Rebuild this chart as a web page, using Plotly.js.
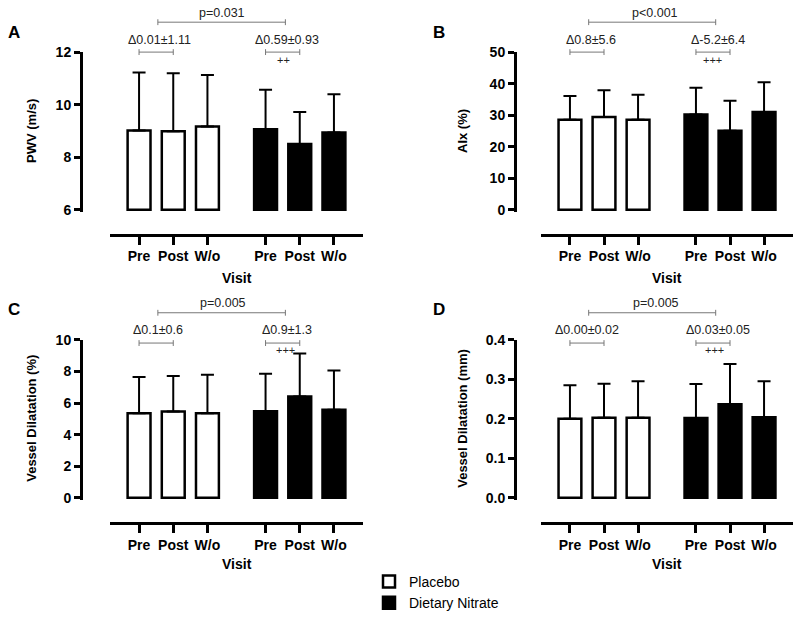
<!DOCTYPE html>
<html><head><meta charset="utf-8">
<script src="https://cdn.plot.ly/plotly-3.0.1.min.js"></script>
<style>body{margin:0;background:#fff}#chart{width:800px;height:619px}</style>
</head><body><div id="chart"></div>
<script>
// ---- data ----
const visits = ["Pre", "Post", "W/o"];
const groups = ["Placebo", "Dietary Nitrate"];

const pwvPlacebo   = [9.02, 8.99, 9.17];
const pwvPlaceboSD = [2.21, 2.21, 1.96];
const pwvNitrate   = [9.07, 8.50, 8.94];
const pwvNitrateSD = [1.50, 1.22, 1.46];

const aixPlacebo   = [28.6, 29.4, 28.6];
const aixPlaceboSD = [7.5, 8.5, 7.9];
const aixNitrate   = [30.2, 25.1, 31.0];
const aixNitrateSD = [8.5, 9.5, 9.5];

const dilPctPlacebo   = [5.36, 5.46, 5.36];
const dilPctPlaceboSD = [2.29, 2.25, 2.43];
const dilPctNitrate   = [5.48, 6.41, 5.58];
const dilPctNitrateSD = [2.37, 2.72, 2.48];

const dilMmPlacebo   = [0.200, 0.203, 0.203];
const dilMmPlaceboSD = [0.085, 0.086, 0.092];
const dilMmNitrate   = [0.202, 0.237, 0.204];
const dilMmNitrateSD = [0.086, 0.102, 0.091];

const yTitles = ["PWV (m/s)", "AIx (%)", "Vessel Dilatation (%)", "Vessel Dilatation (mm)"];
const panelLetters = ["A", "B", "C", "D"];
const pLabels = ["p=0.031", "p<0.001", "p=0.005", "p=0.005"];
const deltaPlacebo = ["Δ0.01±1.11", "Δ0.8±5.6", "Δ0.1±0.6", "Δ0.00±0.02"];
const deltaNitrate = ["Δ0.59±0.93", "Δ-5.2±6.4", "Δ0.9±1.3", "Δ0.03±0.05"];
const sigMarks = ["++", "+++", "+++", "+++"];
const xTitle = "Visit";

// ---- layout helpers ----
const W = 800, H = 619;
const fx = px => px / W;
const fy = py => 1 - py / H;
const FONT = "Liberation Sans, Arial, Helvetica, sans-serif";
const groupOffset = 3.7;

const panels = [
  {mean: [pwvPlacebo, pwvNitrate], sd: [pwvPlaceboSD, pwvNitrateSD], range: [6, 12], dtick: 2, fmt: "", col: 0, row: 0,
   tx: {p: 2.43, dP: 0.61, dN: 4.33, sig: 4.21}},
  {mean: [aixPlacebo, aixNitrate], sd: [aixPlaceboSD, aixNitrateSD], range: [0, 50], dtick: 10, fmt: "", col: 1, row: 0,
   tx: {p: 2.49, dP: 0.63, dN: 4.36, sig: 4.18}},
  {mean: [dilPctPlacebo, dilPctNitrate], sd: [dilPctPlaceboSD, dilPctNitrateSD], range: [0, 10], dtick: 2, fmt: "", col: 0, row: 1,
   tx: {p: 2.46, dP: 0.54, dN: 4.33, sig: 4.27}},
  {mean: [dilMmPlacebo, dilMmNitrate], sd: [dilMmPlaceboSD, dilMmNitrateSD], range: [0, 0.4], dtick: 0.1, fmt: ".1f", col: 1, row: 1,
   tx: {p: 2.54, dP: 0.49, dN: 4.35, sig: 4.24}}
];
const cols = [
  {yAxisX: 81, xDom: [110, 363], titleX: 32, letterX: 13.5},
  {yAxisX: 515, xDom: [541, 793], titleX: 463, letterX: 439}
];
const rows = [
  {yTop: 53.5, yBot: 214.5, xAxisY: 240, pText: 13, pLine: 22.7, dText: 41, dLine: 53.3, sig: 61, visitY: 284, letterY: 33.5},
  {yTop: 347.7, yBot: 509.3, xAxisY: 535, pText: 310, pLine: 320, dText: 338, dLine: 351, sig: 358, visitY: 577, letterY: 316.5}
];

const traces = [];
const layout = {
  width: W, height: H,
  margin: {l: 0, r: 0, t: 0, b: 0},
  paper_bgcolor: "#fff", plot_bgcolor: "rgba(0,0,0,0)",
  font: {family: FONT, color: "#000"},
  barmode: "overlay",
  showlegend: true,
  legend: {x: fx(369), y: fy(579), xanchor: "left", yanchor: "top",
           font: {family: FONT, size: 14, color: "#000"}, bgcolor: "rgba(0,0,0,0)",
           tracegroupgap: 0, traceorder: "normal"},
  annotations: [], shapes: []
};

const xpos = gi => visits.map((v, i) => gi * groupOffset + i);
const allX = [].concat(xpos(0), xpos(1));
const allTickText = [].concat(visits, visits);
const PAD = 2;

panels.forEach((p, k) => {
  const c = cols[p.col], r = rows[p.row];
  const sfx = k === 0 ? "" : String(k + 1);
  const xname = "x" + sfx, yname = "y" + sfx;
  const span = p.range[1] - p.range[0];
  const lo = p.range[0] - span * PAD / (r.yBot - r.yTop);

  layout["xaxis" + sfx] = {
    domain: [fx(c.xDom[0]), fx(c.xDom[1])],
    anchor: "free", position: fy(r.xAxisY),
    range: [-0.85, 6.55], fixedrange: true,
    tickmode: "array", tickvals: allX, ticktext: allTickText,
    showline: true, linewidth: 3, linecolor: "#000",
    ticks: "outside", ticklen: 8, tickwidth: 3, tickcolor: "#000",
    showgrid: false, zeroline: false,
    tickfont: {family: FONT, size: 14, color: "#000", weight: "bold"}
  };
  layout["yaxis" + sfx] = {
    domain: [fy(r.yBot + PAD), fy(r.yTop)],
    anchor: "free", position: fx(c.yAxisX),
    range: [lo, p.range[1]], fixedrange: true,
    tickmode: "linear", tick0: p.range[0], dtick: p.dtick, tickformat: p.fmt,
    showline: true, linewidth: 3, linecolor: "#000",
    ticks: "outside", ticklen: 6, tickwidth: 3, tickcolor: "#000",
    showgrid: false, zeroline: false,
    tickfont: {family: FONT, size: 14, color: "#000", weight: "bold"}
  };

  groups.forEach((g, gi) => {
    traces.push({
      type: "bar", name: g, legendgroup: g, showlegend: k === 0,
      x: xpos(gi),
      y: p.mean[gi].map(v => v - p.range[0]),
      base: p.range[0],
      customdata: p.mean[gi],
      text: visits,
      hovertemplate: g + " %{text}: %{customdata}<extra></extra>",
      textposition: "none",
      width: 0.67,
      marker: {color: gi ? "#000" : "#fff", line: {color: "#000", width: 2.5}},
      error_y: {type: "data", symmetric: false, array: p.sd[gi], arrayminus: p.sd[gi].map(() => 0),
                color: "#000", thickness: 2, width: 6.5},
      xaxis: xname, yaxis: yname
    });
  });

  // annotation texts
  const txt = (text, x, y, size, extra) => Object.assign({
    text: text, xref: xname, yref: "paper", x: x, y: fy(y),
    xanchor: "center", yanchor: "middle", showarrow: false,
    font: {family: FONT, size: size, color: "#222"}
  }, extra || {});
  layout.annotations.push(txt(pLabels[k], p.tx.p, r.pText, 12.5));
  layout.annotations.push(txt(deltaPlacebo[k], p.tx.dP, r.dText, 12.5));
  layout.annotations.push(txt(deltaNitrate[k], p.tx.dN, r.dText, 12.5));
  layout.annotations.push(txt(sigMarks[k], p.tx.sig, r.sig, 11));

  // axis titles & panel letters
  layout.annotations.push({text: yTitles[k], xref: "paper", yref: "paper", x: fx(c.titleX), y: fy((r.yTop + r.yBot) / 2),
    textangle: -90, showarrow: false, xanchor: "center", yanchor: "middle",
    font: {family: FONT, size: 13, color: "#000", weight: "bold"}});
  layout.annotations.push({text: xTitle, xref: "paper", yref: "paper", x: fx((c.xDom[0] + c.xDom[1]) / 2), y: fy(r.visitY),
    showarrow: false, xanchor: "center", yanchor: "middle",
    font: {family: FONT, size: 14, color: "#000", weight: "bold"}});
  layout.annotations.push({text: panelLetters[k], xref: "paper", yref: "paper", x: fx(c.letterX), y: fy(r.letterY),
    showarrow: false, xanchor: "center", yanchor: "middle",
    font: {family: FONT, size: 17, color: "#000", weight: "bold"}});

  // brackets
  const bracket = (x0, x1, yPx) => {
    const ln = {color: "#777", width: 1};
    layout.shapes.push({type: "line", xref: xname, yref: "paper", x0: x0, x1: x1, y0: fy(yPx), y1: fy(yPx), line: ln});
    [x0, x1].forEach(xx => layout.shapes.push({type: "line", xref: xname, yref: "paper", x0: xx, x1: xx,
      y0: fy(yPx - 3), y1: fy(yPx + 3), line: ln}));
  };
  bracket(0, 1, r.dLine);
  bracket(groupOffset, groupOffset + 1, r.dLine);
  bracket(0.55, groupOffset + 0.58, r.pLine);
});

Plotly.newPlot("chart", traces, layout, {displayModeBar: false, staticPlot: false});
</script>
</body></html>
